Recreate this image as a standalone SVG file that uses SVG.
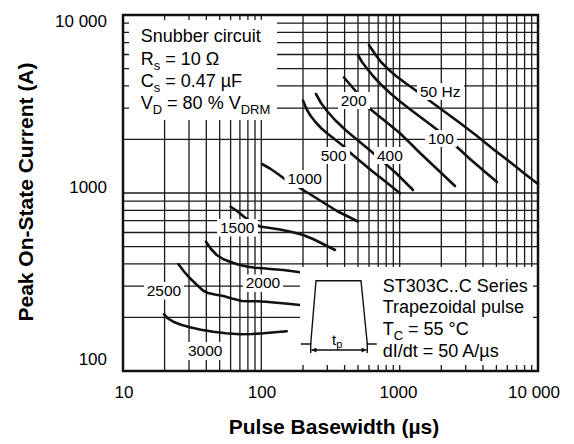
<svg xmlns="http://www.w3.org/2000/svg" width="574" height="444" viewBox="0 0 574 444">
<style>
text{font-family:"Liberation Sans",Arial,sans-serif;fill:#000}
.tick{font-size:17px}
.title{font-size:21px;font-weight:bold}
.info{font-size:18px}
.sub{font-size:13px}
.lbl{font-size:15.5px}
.grid{stroke:#1a1a1a;stroke-width:1.3;fill:none}
.curve{stroke:#111;stroke-width:2.6;fill:none;stroke-linejoin:round;stroke-linecap:round}
.bg{fill:#fff}
.frame{stroke:#111;stroke-width:2.5;fill:none}
.thin{stroke:#111;stroke-width:1.4;fill:none}
</style>
<defs>
<marker id="ah" viewBox="0 0 10 10" refX="10" refY="5" markerWidth="7" markerHeight="5" orient="auto-start-reverse" markerUnits="userSpaceOnUse">
<path d="M0,0 L10,5 L0,10 Z" fill="#111"/>
</marker>
</defs>
<rect width="574" height="444" fill="#fff"/>
<g id="grid">
<path class="grid" d="M164.6,15V371M189,15V371M206.3,15V371M219.7,15V371M230.6,15V371M239.9,15V371M247.9,15V371M255,15V371M261.3,15V371M303,15V371M327.3,15V371M344.6,15V371M358,15V371M369,15V371M378.2,15V371M386.2,15V371M393.3,15V371M399.7,15V371M441.3,15V371M465.7,15V371M483,15V371M496.4,15V371M507.3,15V371M516.6,15V371M524.6,15V371M531.7,15V371"/>
<path class="grid" d="M123,317.4H538M123,286.1H538M123,263.8H538M123,246.6H538M123,232.5H538M123,220.6H538M123,210.3H538M123,201.1H538M123,193H538M123,139.4H538M123,108.1H538M123,85.8H538M123,68.6H538M123,54.5H538M123,42.6H538M123,32.3H538M123,23.1H538"/>
</g>
<g id="connectors">
<polyline id="c50" class="curve" points="369,45 375,54 381,62 388,69 396,76 406,83.5 418,92 430,101 445,112 460,123 477,136 493,149 510,162 525,174 538,184"/>
<polyline id="c100" class="curve" points="358,55 362,62 367,68.5 373,76 380,83.5 390,93 400,101.5 413,111.5 433,126.5 445,136 457,147 470,159 484,171 497,182"/>
<polyline id="c200" class="curve" points="344,77.5 350,84.5 356,91.5 362,99.5 369,108 380,117 390,125 400,133.3 410,143 420,153 437,169 455,186"/>
<polyline id="c400" class="curve" points="316,94 321,103 327,111 335,120 346,130.5 358,140.5 369,149.5 380,159 396,173 413,190"/>
<polyline id="c500" class="curve" points="303,100.5 306,108 310,115 315,121.5 321,128 328,134 335,139.5 342,145 350,152.5 360,161 372,171 386,182 400,193.3"/>
<polyline id="c1000" class="curve" points="262,164 270,168.5 278,174 286,180 295,185 303,190 313,196 324,203 337,211 348,216.5 358,221.5"/>
<polyline id="c1500" class="curve" points="230.7,206.7 237,211 244,216.7 252,222.5 260,226.5 270,228 280,229.5 292,232 303,235 313,239 323,244 335,250"/>
<polyline id="c2000" class="curve" points="206,241.7 211,249 216.7,255 223,259 230,261.7 238,264.5 246.7,266.5 255,267.7 263.3,268.3 273,269.2 283.3,270 291,271 300,272.3"/>
<polyline id="c2500" class="curve" points="178.3,264 184,271.5 190,278.3 197,285 203,290.5 208,293 215,294.5 223.3,296 232,298.5 241.7,301 249,301.3 256.7,301.2 266,301.7 276.7,302.7 288,303.8 300,305"/>
<polyline id="c3000" class="curve" points="164,314.3 168,318.5 173.3,321.7 181,324.8 190,327.3 201,329.7 213.3,331.7 226,333.2 240,334.3 252,334 263.3,333.3 275,332.3 286.7,331.3"/>
</g>
<g id="curve-labels">
<g id="l50"><rect class="bg" x="417" y="83" width="47" height="17"/><text class="lbl" x="420" y="97">50 Hz</text></g>
<g id="l200"><rect class="bg" x="338" y="92" width="32" height="17"/><text class="lbl" x="340.7" y="106">200</text></g>
<g id="l100"><rect class="bg" x="425" y="130" width="32" height="17"/><text class="lbl" x="428" y="144">100</text></g>
<g id="l500"><rect class="bg" x="318" y="147" width="32" height="17"/><text class="lbl" x="320.7" y="160.7">500</text></g>
<g id="l400"><rect class="bg" x="374" y="147" width="32" height="17"/><text class="lbl" x="377" y="160.7">400</text></g>
<g id="l1000"><rect class="bg" x="284.5" y="170" width="41" height="18"/><text class="lbl" x="287.5" y="184">1000</text></g>
<g id="l1500"><rect class="bg" x="217" y="219" width="41" height="17.5"/><text class="lbl" x="220" y="233">1500</text></g>
<g id="l2000"><rect class="bg" x="243" y="274.5" width="40" height="17.5"/><text class="lbl" x="245.7" y="288.3">2000</text></g>
<g id="l2500"><rect class="bg" x="144" y="282" width="40" height="17.5"/><text class="lbl" x="146.7" y="296">2500</text></g>
<g id="l3000"><rect class="bg" x="185" y="342" width="40" height="18"/><text class="lbl" x="188" y="356">3000</text></g>
</g>
<g id="snubber-note">
<rect class="bg" x="129" y="20" width="148" height="100"/>
<text class="info" x="140.7" y="42">Snubber circuit</text>
<text class="info" x="140.7" y="65">R<tspan class="sub" dy="4.5">s</tspan><tspan dy="-4.5"> = 10 Ω</tspan></text>
<text class="info" x="140.7" y="87">C<tspan class="sub" dy="4.5">s</tspan><tspan dy="-4.5"> = 0.47 µF</tspan></text>
<text class="info" x="140.7" y="109">V<tspan class="sub" dy="4.5">D</tspan><tspan dy="-4.5"> = 80 % V</tspan><tspan class="sub" dy="4.5">DRM</tspan></text>
</g>
<g id="series-note">
<rect class="bg" x="300" y="267" width="233" height="98"/>
<path class="thin" d="M300.7,344H310.7L316,280.7H361L367.3,344H376.7"/>
<path class="thin" d="M310.7,343V353M367.3,343V353"/>
<path class="thin" d="M311.5,350H366.5" marker-start="url(#ah)" marker-end="url(#ah)"/>
<text x="332" y="345" style="font-size:15px">t<tspan style="font-size:11px" dy="3">p</tspan></text>
<text class="info" x="382.7" y="291.5">ST303C..C Series</text>
<text class="info" x="382.7" y="313">Trapezoidal pulse</text>
<text class="info" x="382.7" y="335">T<tspan class="sub" dy="4.5">C</tspan><tspan dy="-4.5"> = 55 °C</tspan></text>
<text class="info" x="382.7" y="357">dI/dt = 50 A/µs</text>
</g>
<g id="frame">
<rect class="frame" x="123" y="15" width="415" height="356"/>
</g>
<g id="axis-labels">
<text class="tick" x="107" y="27" text-anchor="end">10 000</text>
<text class="tick" x="107" y="193" text-anchor="end">1000</text>
<text class="tick" x="107" y="365" text-anchor="end">100</text>
<text class="tick" x="124" y="398" text-anchor="middle">10</text>
<text class="tick" x="262" y="398" text-anchor="middle">100</text>
<text class="tick" x="398.5" y="398" text-anchor="middle">1000</text>
<text class="tick" x="534" y="398" text-anchor="middle">10 000</text>
<text class="title" x="334" y="434" text-anchor="middle">Pulse Basewidth (µs)</text>
<text class="title" transform="translate(33,192) rotate(-90)" text-anchor="middle">Peak On-State Current (A)</text>
</g>
</svg>
